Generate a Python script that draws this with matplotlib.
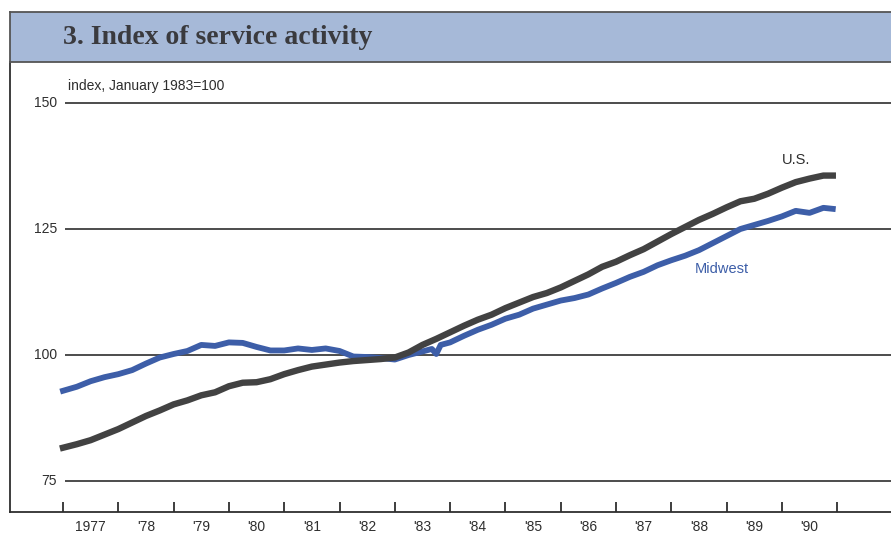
#!/usr/bin/env python3
"""Index of service activity, U.S. vs Midwest, 1977-1990."""
import matplotlib
matplotlib.use('Agg')
import matplotlib.pyplot as plt
from matplotlib.patches import Rectangle
from matplotlib.lines import Line2D

# quarterly readings (index, January 1983=100)
us_t = [1977.0, 1977.25, 1977.5, 1977.75, 1978.0, 1978.25, 1978.5, 1978.75,
        1979.0, 1979.25, 1979.5, 1979.75, 1980.0, 1980.25, 1980.5, 1980.75,
        1981.0, 1981.25, 1981.5, 1981.75, 1982.0, 1982.25, 1982.5, 1982.75,
        1983.0, 1983.25, 1983.5, 1983.75, 1984.0, 1984.25, 1984.5, 1984.75,
        1985.0, 1985.25, 1985.5, 1985.75, 1986.0, 1986.25, 1986.5, 1986.75,
        1987.0, 1987.25, 1987.5, 1987.75, 1988.0, 1988.25, 1988.5, 1988.75,
        1989.0, 1989.25, 1989.5, 1989.75, 1990.0, 1990.25, 1990.5, 1990.75,
        1990.92]
us_v = [81.6, 82.3, 83.1, 84.2, 85.3, 86.6, 87.9, 89.0,
        90.2, 91.0, 92.0, 92.6, 93.8, 94.5, 94.6, 95.2,
        96.2, 97.0, 97.7, 98.1, 98.5, 98.8, 99.0, 99.2,
        99.5, 100.5, 102.0, 103.2, 104.5, 105.8, 107.0, 108.0,
        109.3, 110.4, 111.5, 112.3, 113.4, 114.7, 116.0, 117.5,
        118.5, 119.8, 121.0, 122.5, 124.0, 125.4, 126.8, 128.0,
        129.3, 130.5, 131.0, 132.0, 133.2, 134.3, 135.0, 135.6,
        135.6]

mw_t = [1977.0, 1977.25, 1977.5, 1977.75, 1978.0, 1978.25, 1978.5, 1978.75,
        1979.0, 1979.25, 1979.5, 1979.75, 1980.0, 1980.25, 1980.5, 1980.75,
        1981.0, 1981.25, 1981.5, 1981.75, 1982.0, 1982.25, 1982.5, 1982.75,
        1983.0, 1983.25, 1983.5, 1983.67, 1983.75, 1983.83, 1984.0, 1984.25,
        1984.5, 1984.75, 1985.0, 1985.25, 1985.5, 1985.75, 1986.0, 1986.25,
        1986.5, 1986.75, 1987.0, 1987.25, 1987.5, 1987.75, 1988.0, 1988.25,
        1988.5, 1988.75, 1989.0, 1989.25, 1989.5, 1989.75, 1990.0, 1990.25,
        1990.5, 1990.75, 1990.92]
mw_v = [92.9, 93.7, 94.8, 95.6, 96.2, 97.0, 98.3, 99.5,
        100.2, 100.8, 102.0, 101.8, 102.5, 102.4, 101.6, 100.9,
        100.9, 101.3, 101.0, 101.3, 100.8, 99.7, 99.6, 99.4,
        99.1, 100.0, 100.7, 101.2, 100.2, 102.0, 102.5, 103.8,
        105.0, 106.0, 107.2, 108.0, 109.2, 110.0, 110.8, 111.3,
        112.0, 113.2, 114.3, 115.5, 116.5, 117.8, 118.8, 119.7,
        120.8, 122.2, 123.6, 125.0, 125.8, 126.6, 127.5, 128.6,
        128.2, 129.2, 129.0]

y_ticks = [75, 100, 125, 150]
year_ticks = list(range(1977, 1992))
year_labels = ['1977', "'78", "'79", "'80", "'81", "'82", "'83", "'84",
               "'85", "'86", "'87", "'88", "'89", "'90"]

TITLE = '3. Index of service activity'
UNITS = 'index, January 1983=100'

US_COL = '#424242'
MW_COL = '#3d5ea8'
INK = '#2e2e2e'

plt.rcParams['font.family'] = ['Liberation Sans', 'DejaVu Sans']

W, H = 891, 533
fig = plt.figure(figsize=(W / 100, H / 100), dpi=100)

# pixel geometry of the plot frame
px_left, px_right, px_top, px_bot = 10, 891, 62, 512
px_1977, px_per_year = 63, 55.3
px_100, px_per_unit = 355, 126 / 25

ax = fig.add_axes([px_left / W, 1 - px_bot / H, (px_right - px_left) / W, (px_bot - px_top) / H])
ax.set_xlim(1977 - (px_1977 - px_left) / px_per_year, 1977 + (px_right - px_1977) / px_per_year)
ax.set_ylim(100 - (px_bot - px_100) / px_per_unit, 100 + (px_100 - px_top) / px_per_unit)

for s in ('top', 'right'):
    ax.spines[s].set_visible(False)
for s in ('left', 'bottom'):
    ax.spines[s].set_color(INK)
    ax.spines[s].set_linewidth(1.3)

# horizontal rules + labels
x_rule0 = 1977 + 2 / px_per_year
for v in y_ticks:
    ax.plot([x_rule0, ax.get_xlim()[1]], [v, v], color=INK, lw=1.2, zorder=1, solid_capstyle='butt')
    ax.text(x_rule0 - 8 / px_per_year, v, str(v), ha='right', va='center', fontsize=10, color=INK)
ax.set_yticks([])

ax.set_xticks(year_ticks)
ax.set_xticklabels([])
ax.set_xticks([y + 0.5 for y in year_ticks[:-1]], minor=True)
ax.set_xticklabels(year_labels, minor=True, fontsize=10, color=INK)
ax.tick_params(axis='x', which='major', direction='in', length=7, width=1.3, color=INK)
ax.tick_params(axis='x', which='minor', length=0, pad=5.5)

ax.plot(mw_t, mw_v, color=MW_COL, lw=4.2, solid_joinstyle='round', zorder=3)
ax.plot(us_t, us_v, color=US_COL, lw=4.6, solid_joinstyle='round', zorder=4)

ax.text(1990.25, 138.7, 'U.S.', color=INK, fontsize=10.5, ha='center', va='center')
ax.text(1988.92, 117.1, 'Midwest', color=MW_COL, fontsize=10.5, ha='center', va='center')

ax.text(1977 + 5 / px_per_year, 100 + (px_100 - 86) / px_per_unit, UNITS,
        ha='left', va='center', fontsize=10, color=INK)

# title band
band = Rectangle((px_left / W, 1 - px_top / H), (W - px_left) / W, (px_top - 12) / H,
                 transform=fig.transFigure, facecolor='#a6b9d8', edgecolor='none', zorder=0)
fig.patches.append(band)
fig.add_artist(Line2D([px_left / W, 1], [1 - 12 / H, 1 - 12 / H], color='#555555', lw=1.3))
fig.add_artist(Line2D([px_left / W, 1], [1 - px_top / H, 1 - px_top / H], color='#555555', lw=1.3))
fig.add_artist(Line2D([px_left / W, px_left / W], [1 - px_top / H, 1 - 12 / H], color='#555555', lw=1.3))
fig.text(63 / W, 1 - 38 / H, TITLE, fontsize=20, fontweight='bold', family='Liberation Serif',
         color='#3a3a3e', ha='left', va='center')

fig.savefig('out.png', dpi=100, facecolor='white')
